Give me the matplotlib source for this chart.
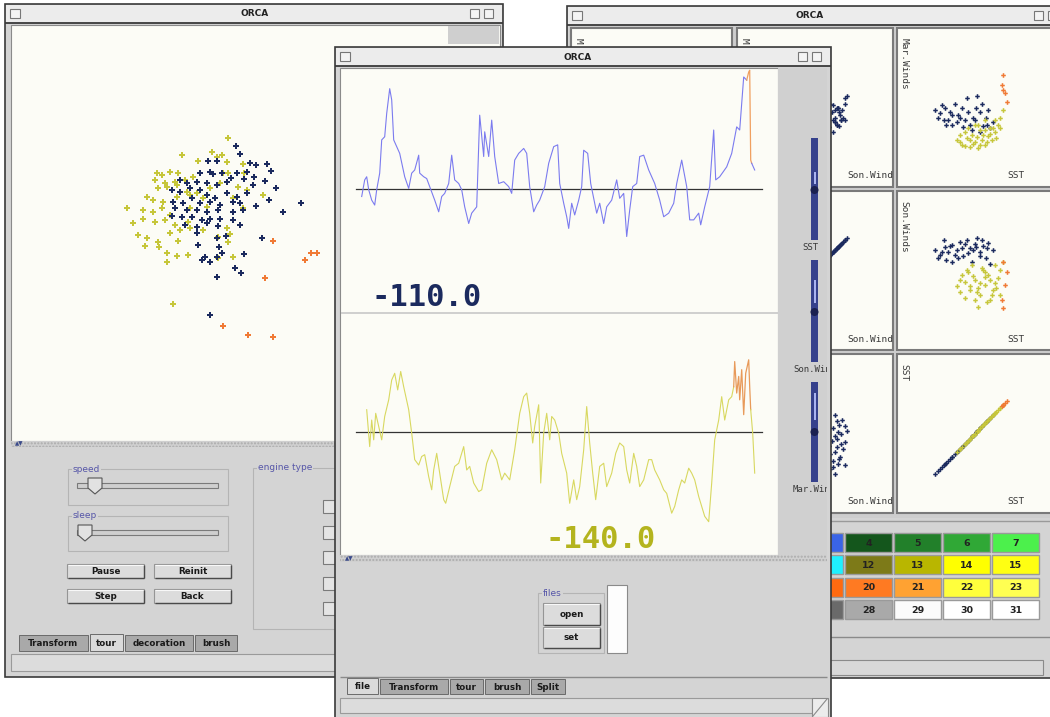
import numpy as np
import matplotlib.pyplot as plt
from matplotlib.patches import Rectangle, Polygon, Circle

# ---------------- data ----------------
# left window: grand tour projection, two projection coordinates per case
navy_p1 = [-0.42, -0.30, -1.25, -1.00, 0.00, 0.18, 0.52, 0.63, -1.50, -1.20, -1.10, -0.85, -0.58, -0.40,
           -0.10, 0.12, 0.45, -2.10, -1.88, -1.60, -1.30, -1.00, -0.70, -0.18, 0.10, 0.78, -2.35, -2.10,
           -1.80, -1.50, -1.30, -1.05, -0.70, -0.40, -0.10, -2.30, -2.00, -1.75, -1.50, -1.20, -0.90, -0.52,
           -0.30, 0.18, 0.58, 1.53, -2.25, -1.90, -1.60, -1.30, -0.95, -0.52, -0.20, 0.98, -2.35, -2.05,
           -1.75, -1.45, -1.20, -0.90, -0.50, -1.95, -1.60, -1.30, -0.95, -0.30, -1.60, -1.00, -0.72, 0.35,
           -1.55, -0.92, -0.85, -0.18, -1.35, -1.20, -1.45, -0.98, -0.45, -0.28, -0.98, -1.20]
navy_p2 = [2.58, 2.34, 2.14, 2.14, 2.06, 2.02, 2.04, 1.84, 1.78, 1.81, 1.74, 1.78, 1.61, 1.76,
           1.81, 1.66, 1.54, 1.56, 1.46, 1.51, 1.46, 1.41, 1.51, 1.58, 1.41, 1.31, 1.26, 1.21,
           1.31, 1.26, 1.11, 1.01, 1.16, 1.06, 1.16, 0.91, 0.86, 1.01, 0.86, 0.91, 0.81, 0.91,
           0.86, 0.78, 0.96, 0.88, 0.71, 0.66, 0.66, 0.61, 0.66, 0.61, 0.66, 0.61, 0.48, 0.44,
           0.46, 0.36, 0.38, 0.38, 0.36, 0.21, 0.16, 0.26, 0.18, 0.21, -0.02, -0.19, -0.12, -0.19,
           -0.39, -0.44, -0.62, -0.66, -0.74, -0.89, -0.84, -0.76, -1.09, -1.22, -1.36, -2.49]
yellow_p1 = [-0.65, -2.05, -1.15, -0.98, -0.85, -1.55, -0.70, -0.20, -2.80, -2.65, -2.40, -2.15, -2.85,
             -2.55, -2.25, -1.95, -1.70, -0.80, -0.65, -0.18, -2.75, -2.50, -2.20, -1.90, -1.60, -1.20,
             -0.90, -0.35, -0.10, 0.40, -3.10, -2.90, -2.60, -2.20, -1.80, -1.40, -0.50, -3.70, -3.20,
             -2.90, -2.65, -2.40, -1.80, -1.30, -0.20, -3.50, -3.20, -2.85, -2.55, -2.25, -1.85, -1.40,
             -3.35, -3.10, -2.75, -2.40, -2.10, -1.80, -0.70, -0.95, -0.60, -3.15, -2.72, -2.15, -0.65,
             -2.50, -2.20, -1.85, -0.95, -0.52, -2.50, -2.32]
yellow_p2 = [2.81, 2.31, 2.41, 2.26, 2.31, 2.14, 2.11, 2.03, 1.76, 1.71, 1.81, 1.76, 1.56,
             1.46, 1.51, 1.56, 1.66, 1.78, 1.76, 1.76, 1.31, 1.36, 1.41, 1.21, 1.16, 1.31,
             1.46, 1.36, 1.26, 1.11, 1.06, 0.96, 0.91, 1.06, 1.11, 1.01, 1.01, 0.71, 0.66,
             0.61, 0.71, 0.51, 0.71, 0.74, 0.71, 0.26, 0.38, 0.31, 0.36, 0.21, 0.31, 0.06,
             -0.09, -0.19, -0.29, -0.04, 0.06, 0.11, 0.11, -0.14, -0.06, -0.42, -0.44, -0.26, -0.29,
             -0.62, -0.72, -0.69, -0.79, -0.74, -0.89, -2.16]
orange_p1 = [0.70, 1.82, 2.02, 1.65, 0.45, -0.80, -0.05, 0.70]
orange_p2 = [-0.26, -0.64, -0.62, -0.84, -1.39, -2.82, -3.09, -3.14]

# middle window: time series (time index, anomaly)
t_sst = [0, 3, 5, 7, 10, 13, 15, 18, 20, 23, 25, 28, 30, 32, 35, 38, 43, 47, 50, 53, 57, 58, 62, 65, 68,
         73, 77, 80, 83, 87, 90, 93, 97, 100, 103, 107, 110, 115, 118, 122, 123, 127, 130, 133, 137, 142,
         147, 150, 153, 157, 162, 165, 168, 172, 175, 178, 183, 187, 192, 196, 198, 202, 205, 207, 210,
         213, 217, 220, 222, 226, 229, 235, 238, 242, 245, 250, 255, 258, 262, 265, 268, 271, 275, 278,
         282, 287, 293, 298, 302, 307, 312, 315, 320, 325, 328, 332, 337, 339, 343, 348, 352, 354, 358,
         365, 370, 375, 378, 382, 385, 387, 388, 389, 390, 393]
sst_anom = [-0.16, 0.21, 0.28, -0.01, -0.24, -0.35, -0.01, 0.36, 1.10, 1.17, 1.69, 2.24, 1.99, 1.10,
            0.95, 0.80, 0.28, 0.02, 0.36, 0.43, 0.76, 0.36, 0.28, 0.24, 0.06, -0.24, -0.50, -0.16, -0.09,
            0.13, 0.76, 0.21, 0.13, -0.01, -0.39, -0.76, -0.53, -0.39, 1.65, 0.73, 1.28, 0.73, 1.54, 0.73,
            0.13, 0.17, 0.06, -0.09, 0.65, 0.80, 0.91, 0.80, 0.06, -0.50, -0.35, -0.24, 0.06, 0.58, 0.95,
            0.99, 0.13, -0.31, -0.61, -0.87, -0.31, -0.57, -0.24, 0.06, 0.87, 0.80, 0.13, -0.53, -0.31,
            -0.76, -0.39, -0.24, 0.21, -0.20, -0.09, -1.05, -0.46, 0.06, 0.13, 0.73, 0.76, 0.43, 0.13,
            -0.24, -0.61, -0.53, -0.31, 0.13, 0.65, 0.06, -0.68, -0.68, -0.53, -0.79, -0.39, 0.06, 1.32,
            0.21, 0.28, 0.50, 0.80, 1.39, 1.32, 2.50, 2.43, 2.61, 2.65, 0.65, 0.58, 0.43]
t_wind = [5, 8, 10, 12, 14, 17, 20, 23, 27, 30, 33, 36, 39, 42, 47, 50, 53, 57, 60, 63, 67, 70, 72, 75,
          78, 82, 84, 88, 93, 97, 102, 105, 108, 112, 117, 120, 125, 130, 135, 140, 143, 148, 153, 158,
          162, 165, 168, 171, 173, 177, 179, 182, 185, 188, 190, 193, 197, 200, 205, 208, 212, 215, 218,
          222, 225, 228, 231, 234, 238, 242, 245, 250, 254, 258, 262, 265, 268, 272, 275, 278, 282, 287,
          290, 293, 298, 302, 305, 310, 313, 317, 320, 323, 327, 330, 333, 337, 340, 343, 347, 350, 353,
          357, 360, 363, 367, 370, 372, 373, 375, 377, 378, 380, 382, 384, 387, 388, 389, 391, 393]
wind_anom = [0.50, -0.32, 0.27, -0.17, 0.42, 0.13, -0.17, 0.35, 0.72, 1.16, 1.31, 0.94, 1.35, 1.01,
             0.50, -0.02, -0.61, -0.73, -0.54, -0.50, -0.99, -1.28, -0.84, -0.47, -0.91, -1.50, -1.58,
             -1.21, -0.76, -0.69, -0.32, -0.84, -0.76, -1.13, -1.32, -1.28, -0.69, -0.39, -0.61, -1.06,
             -0.91, -1.06, -0.39, 0.42, 0.79, 0.87, 0.42, -0.24, 0.13, 0.61, -1.13, -0.02, 0.42, -0.17,
             0.35, 0.27, -0.02, -0.47, -0.91, -1.58, -1.06, -1.50, -1.21, -0.39, 0.57, -0.24, -0.91,
             -1.50, -0.76, -0.69, -1.21, -0.91, -0.47, -0.24, -0.32, -0.84, -1.13, -0.47, -0.76, -1.21,
             -1.06, -0.61, -0.61, -0.84, -1.06, -1.28, -1.36, -1.80, -1.65, -1.28, -1.06, -1.13, -0.80,
             -0.91, -1.06, -1.43, -1.65, -1.87, -1.99, -1.13, -0.17, 0.27, 0.79, 0.27, 0.72, 0.79, 1.01,
             1.57, 0.87, 1.24, 0.72, 1.39, 0.39, 1.31, 1.61, 1.01, 0.50, -0.02, -0.91]

# right window: scatterplot matrix, one value per case and variable
navy_sst = [25.13, 25.37, 25.61, 25.27, 25.75, 25.94, 26.18, 26.33, 26.47, 26.67, 26.81, 26.91, 27.05,
            27.15, 27.29, 27.43, 27.58, 27.68, 27.77, 27.92, 26.43, 26.09, 27.39, 25.66, 26.71,
            25.46, 25.85, 26.23, 26.57, 26.95, 27.29, 27.63, 25.94, 25.56, 27.10]
navy_mar = [-0.19, -0.42, -0.04, -0.79, -0.94, -0.57, -1.09, -0.79, -1.47, 0.72, -1.32, -1.70, -0.94,
            0.87, -1.85, -1.40, -0.79, -0.19, -1.55, -1.09, -0.04, 0.26, 0.26, -1.32, -0.34,
            0.19, -0.34, -0.57, -0.94, -0.79, -0.34, -1.32, -1.32, -0.94, -0.04]
navy_son = [1.55, 1.17, 1.77, 0.94, 1.40, 1.92, 1.55, 2.15, 1.09, 2.30, 1.70, 0.64, 2.00,
            2.45, 1.40, 1.85, 0.94, 2.08, 0.49, 1.55, 1.70, 1.17, 2.30, 0.79, 1.32,
            1.40, 1.85, 0.94, 2.00, 1.55, 1.09, 1.70, 0.64, 2.30, 1.77]
yellow_sst = [26.18, 26.43, 26.67, 26.81, 27.05, 27.19, 27.39, 27.53, 27.68, 27.87, 28.01, 28.16, 28.25,
              28.40, 26.57, 27.29, 27.77, 26.91, 26.33, 27.53, 28.06, 27.05,
              26.33, 26.57, 26.81, 26.95, 27.15, 27.29, 27.43, 27.63, 27.77, 27.92, 26.71, 27.19,
              27.53, 28.01, 28.25]
yellow_mar = [-2.45, -2.83, -2.30, -2.98, -2.60, -3.06, -2.45, -2.83, -2.15, -2.45, -1.85, -1.32, -0.79,
              -0.19, -1.85, -1.70, -1.55, -2.08, -2.08, -0.94, -2.30, -1.32,
              -2.60, -2.91, -2.45, -2.75, -2.23, -2.83, -2.08, -2.60, -2.00, -1.55, -1.55, -1.32,
              -1.70, -0.94, -1.55]
yellow_son = [-1.17, -0.34, 0.04, -1.47, -0.72, -2.75, 0.19, -1.09, -0.34, -1.85, 0.42, -0.57, 0.04,
              0.64, -0.87, -1.85, -2.23, 0.42, -1.62, -0.11, -1.32, -2.23,
              -0.72, -2.08, -1.17, -0.42, -1.62, -0.94, 0.04, -2.38, -0.72, -1.47, -0.11, -1.32,
              -0.49, -0.94, -1.85]
orange_sst = [28.40, 28.35, 28.40, 28.49, 28.59]
orange_mar = [2.45, 1.70, 1.32, 1.09, 0.42]
orange_son = [0.64, -2.23, -2.83, -1.09, -0.11]

var_names = ['Mar.Winds', 'Son.Winds', 'SST']
var_lims = [(-6, 6), (-6, 6), (23.3, 30.8)]

# brush colour table
pal_numbers = [[3, 4, 5, 6, 7], [11, 12, 13, 14, 15], [19, 20, 21, 22, 23], [27, 28, 29, 30, 31]]
pal_colors = [['#3a64e6', '#14561c', '#22802a', '#30a836', '#4cf04c'],
              ['#1ff0ff', '#7d7a18', '#b9b600', '#ffff00', '#ffff12'],
              ['#ff6a10', '#ff7a22', '#ffa232', '#ffff3c', '#ffff52'],
              ['#6a6a6a', '#a9a9a9', '#fbfbfb', '#ffffff', '#ffffff']]

NAVY = '#1b2a5e'
YELLOW = '#c6c63a'
ORANGE = '#f07a35'
GREY = '#d4d4d4'
PAPER = '#fcfcf6'
LABEL = '#5656a8'

W, H = 1050, 717
fig = plt.figure(figsize=(W / 100, H / 100), dpi=100)
fig.patch.set_facecolor('white')


def layer(z):
    ax = fig.add_axes([0, 0, 1, 1], zorder=z)
    ax.set_xlim(0, W)
    ax.set_ylim(H, 0)
    ax.axis('off')
    return ax


def inset(x, y, w, h, z):
    ax = fig.add_axes([x / W, 1 - (y + h) / H, w / W, h / H], zorder=z)
    ax.axis('off')
    return ax


def rect(ax, x, y, w, h, fc, ec='none', lw=0.8, **kw):
    p = Rectangle((x, y), w, h, facecolor=fc, edgecolor=ec, linewidth=lw, **kw)
    ax.add_patch(p)
    return p


def hline(ax, x0, x1, y, c, lw=0.8):
    ax.plot([x0, x1], [y, y], color=c, lw=lw, solid_capstyle='butt')


def vline(ax, x, y0, y1, c, lw=0.8):
    ax.plot([x, x], [y0, y1], color=c, lw=lw, solid_capstyle='butt')


def window(ax, x, y, w, h, title_x):
    rect(ax, x, y, w, h, GREY, '#3a3a3a', 1.2)
    rect(ax, x + 1, y + 1, w - 2, 18, '#ececec')
    hline(ax, x, x + w, y + 19, '#3a3a3a', 1.3)
    ax.text(title_x, y + 10, 'ORCA', ha='center', va='center', fontsize=6.5,
            fontweight='bold', color='#222222')
    rect(ax, x + 5, y + 5, 10, 9, '#f4f4f4', '#777777', 0.8)
    for dx in (33, 19):
        rect(ax, x + w - dx, y + 5, 9, 9, '#f4f4f4', '#777777', 0.8)


def button(ax, x, y, w, h, label):
    rect(ax, x, y, w, h, '#dcdcdc', '#959595', 0.8)
    hline(ax, x + 1, x + w, y + h, '#4a4a4a', 1.0)
    vline(ax, x + w, y + 1, y + h, '#4a4a4a', 1.0)
    hline(ax, x + 1, x + w - 1, y + 1, '#f8f8f8', 0.8)
    ax.text(x + w / 2, y + h / 2 + 0.5, label, ha='center', va='center', fontsize=6.3,
            fontweight='bold', color='#1a1a1a')


def tab(ax, x, y, w, h, label, active=False):
    fc = '#dadada' if active else '#a9a9a9'
    rect(ax, x, y, w, h, fc, '#6a6a6a', 0.7)
    ax.text(x + w / 2, y + h / 2 + 0.5, label, ha='center', va='center', fontsize=6.3,
            fontweight='bold', color='#1a1a1a')


def group(ax, x, y, w, h, label):
    rect(ax, x, y, w, h, 'none', '#b4b4b4', 0.8)
    ax.text(x + 5, y, label, ha='left', va='center', fontsize=6.5, color=LABEL,
            bbox=dict(fc=GREY, ec='none', pad=0.6))


def thumb(ax, x, y):
    ax.add_patch(Polygon([(x - 7, y - 7), (x + 7, y - 7), (x + 7, y + 3), (x, y + 9), (x - 7, y + 3)],
                         closed=True, facecolor='#e2e2e2', edgecolor='#555555', linewidth=0.8))


def divider(ax, x, y, w, h, arrow_x):
    rect(ax, x, y, w, h, '#d0d0d0', '#ababab', 0, hatch='.....')
    ax.text(arrow_x, y + h / 2, '\u25b2\u25bc', ha='left', va='center', fontsize=4, color='#3a4a8a')


# ---------------- left window ----------------
L = layer(1)
window(L, 5, 4, 498, 673, 255)
rect(L, 11, 25, 489, 416, PAPER, '#8a8a8a', 0.8)
rect(L, 448, 26, 51, 18, '#cfcfcf')
divider(L, 11, 441, 489, 6, 15)
group(L, 68, 469, 160, 36, 'speed')
rect(L, 77, 483, 141, 5, '#cfcfcf', '#7a7a7a', 0.8)
thumb(L, 95, 485)
group(L, 68, 516, 160, 35, 'sleep')
rect(L, 77, 530, 141, 5, '#cfcfcf', '#7a7a7a', 0.8)
thumb(L, 85, 532)
button(L, 67, 564, 77, 14, 'Pause')
button(L, 154, 564, 77, 14, 'Reinit')
button(L, 67, 589, 77, 14, 'Step')
button(L, 154, 589, 77, 14, 'Back')
group(L, 253, 468, 100, 161, 'engine type')
for cy in (500, 526, 551, 577, 602):
    rect(L, 323, cy, 14, 13, '#e4e4e4', '#7a7a7a', 0.8)
tab(L, 19, 635, 69, 16, 'Transform')
tab(L, 90, 634, 33, 17, 'tour', True)
tab(L, 125, 635, 68, 16, 'decoration')
tab(L, 195, 635, 42, 16, 'brush')
rect(L, 11, 654, 489, 17, '#dcdcdc', '#9a9a9a', 0.8)

tour = inset(11, 25, 489, 416, 2)
tour.set_xlim(-7.17, 7.5)
tour.set_ylim(-6.27, 6.21)
tour.plot(yellow_p1, yellow_p2, 'P', color=YELLOW, ms=4.2, mew=0)
tour.plot(navy_p1, navy_p2, 'P', color=NAVY, ms=4.2, mew=0)
tour.plot(orange_p1, orange_p2, 'P', color=ORANGE, ms=4.2, mew=0)

# ---------------- right window ----------------
R = layer(3)
window(R, 567, 6, 500, 672, 810)
rect(R, 569, 26, 490, 492, '#cecece')
col_x = [571, 737, 897]
col_w = [161, 156, 156]
row_y = [28, 191, 354]
PH = 159
for r in range(3):
    for c in range(3):
        rect(R, col_x[c], row_y[r], col_w[c], PH, PAPER, '#7a7a7a', 1.5)
hline(R, 567, 1060, 521, '#9a9a9a', 1.0)
for i, row in enumerate(pal_numbers):
    for j, num in enumerate(row):
        cx = 796 + 49 * j
        cy = 533 + 22.4 * i
        rect(R, cx, cy, 47, 19, pal_colors[i][j], '#9a9a9a', 1.0)
        R.text(cx + 23.5, cy + 10, str(num), ha='center', va='center', fontsize=6.8,
               fontweight='bold', color='#222222')
hline(R, 828, 1060, 637, '#8a8a8a', 1.0)
rect(R, 830, 660, 213, 15, '#d8d8d8', '#8a8a8a', 0.8)

groups = [(navy_mar, navy_son, navy_sst, NAVY),
          (yellow_mar, yellow_son, yellow_sst, YELLOW),
          (orange_mar, orange_son, orange_sst, ORANGE)]
mono = dict(family='DejaVu Sans Mono', fontsize=6.8, color='#3a3a3a', clip_on=True)
for r in range(3):
    for c in range(3):
        ax = inset(col_x[c], row_y[r], col_w[c], PH, 4)
        ax.set_xlim(var_lims[c])
        ax.set_ylim(var_lims[r])
        for g in groups:
            ax.plot(g[c], g[r], 'P', color=g[3], ms=3.3, mew=0)
        # labels of the two left columns sit under the front window; only the
        # part that peeks out above it is drawn there
        if c >= 1:
            ax.text(110 / col_w[c], 11 / PH, var_names[c], transform=ax.transAxes, ha='left',
                    va='center', **mono)
        ylab = var_names[r] if c == 2 else (var_names[r][0] if r == 0 else '')
        if ylab:
            ax.text(7 / col_w[c], 1 - 10 / PH, ylab, transform=ax.transAxes, ha='center',
                    va='top', rotation=270, **mono)

# ---------------- middle window ----------------
M = layer(5)
window(M, 335, 47, 496, 680, 578)
rect(M, 340, 68, 438, 487, PAPER, '#8a8a8a', 0.8)
rect(M, 778, 68, 49, 487, '#d0d0d0')
hline(M, 341, 778, 312.5, '#c8c8c8', 1.2)
divider(M, 340, 555, 487, 7, 345)
side_clip = Rectangle((778, 68), 49, 487, transform=M.transData)
sliders = [(138, 240, 172, 184, 190, 'SST', 247),
           (260, 362, 280, 303, 312, 'Son.Winds', 369),
           (382, 482, 393, 420, 432, 'Mar.Winds', 490)]
for y0, y1, hy0, hy1, ty, name, ly in sliders:
    rect(M, 811, y0, 7, y1 - y0, '#36418c')
    rect(M, 813.5, hy0, 2.5, hy1 - hy0, '#aab4f0')
    M.add_patch(Circle((814.5, ty), 4, facecolor='#1a2050', edgecolor='none'))
    t = M.text(802 if name == 'SST' else 793, ly, name, ha='left', va='center',
               family='DejaVu Sans Mono', fontsize=6.5, color='#3a3a3a')
    t.set_clip_path(side_clip)
    t.set_clip_on(True)
M.text(372, 297, '-110.0', ha='left', va='center', family='DejaVu Sans Mono', fontweight='bold',
       fontsize=22, color=NAVY)
M.text(545, 539, '-140.0', ha='left', va='center', family='DejaVu Sans Mono', fontweight='bold',
       fontsize=22, color='#b4b41e')
group(M, 538, 593, 66, 60, 'files')
button(M, 543, 603, 57, 22, 'open')
button(M, 543, 627, 57, 21, 'set')
rect(M, 607, 585, 20, 68, '#fdfdfd', '#8a8a8a', 0.8)
hline(M, 340, 827, 677, '#8a8a8a', 1.0)
tab(M, 347, 678, 31, 16, 'file', True)
tab(M, 380, 679, 68, 15, 'Transform')
tab(M, 450, 679, 33, 15, 'tour')
tab(M, 485, 679, 44, 15, 'brush')
tab(M, 531, 679, 34, 15, 'Split')
rect(M, 340, 698, 472, 15, '#dcdcdc', '#9a9a9a', 0.8)
rect(M, 812, 698, 16, 19, '#ececec', '#8a8a8a', 0.8)
M.plot([813, 827], [716, 699], color='#8a8a8a', lw=0.8)

ts = np.array(t_sst)
vs = np.array(sst_anom)
tw = np.array(t_wind)
vw = np.array(wind_anom)

top = inset(340, 68, 438, 244, 6)
top.set_xlim(-21.7, 416.3)
top.set_ylim(-2.73, 2.70)
top.axhline(0, xmin=0.037, xmax=0.963, color='#333333', lw=0.9)
m = ts <= 385
top.plot(ts[m], vs[m], color='#7b7bef', lw=0.8)
m = (ts >= 385) & (ts <= 390)
top.plot(ts[m], vs[m], color='#f0a060', lw=0.9)
m = ts >= 390
top.plot(ts[m], vs[m], color='#7b7bef', lw=0.8)

bot = inset(340, 313, 438, 242, 6)
bot.set_xlim(-21.7, 416.3)
bot.set_ylim(-2.73, 2.65)
bot.axhline(0, xmin=0.037, xmax=0.963, color='#333333', lw=0.9)
m = tw <= 372
bot.plot(tw[m], vw[m], color='#d8d860', lw=0.8)
m = (tw >= 372) & (tw <= 389)
bot.plot(tw[m], vw[m], color='#e89a5a', lw=0.9)
m = tw >= 389
bot.plot(tw[m], vw[m], color='#d8d860', lw=0.8)

fig.savefig('out.png', dpi=100, facecolor='white')
